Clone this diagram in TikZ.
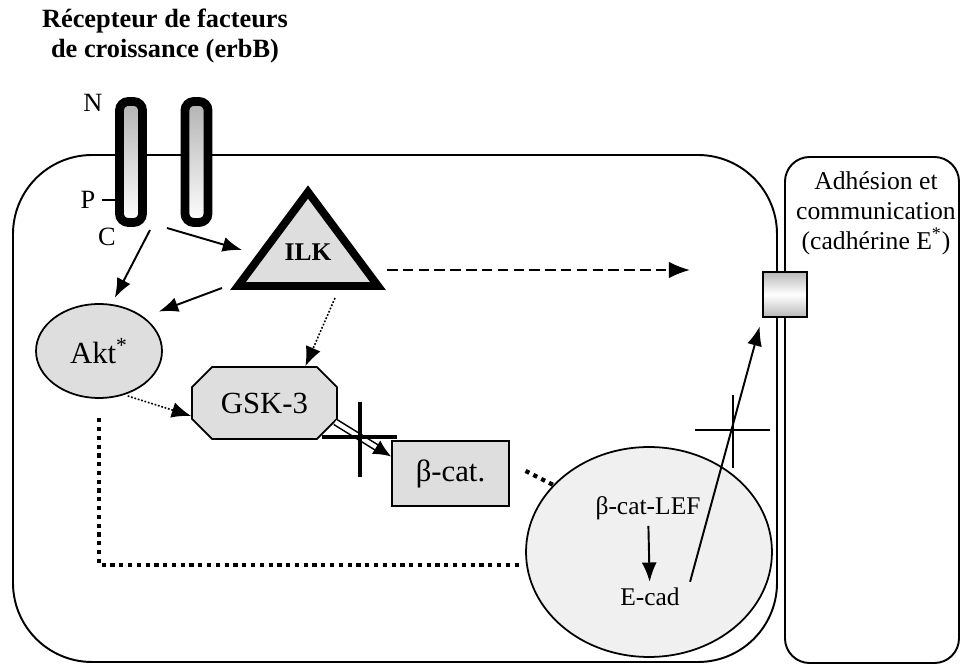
\documentclass[tikz,border=0pt]{standalone}
\usepackage{fontspec}
\setmainfont{Liberation Serif}
\usetikzlibrary{arrows.meta,shapes.misc,shapes.geometric}
\definecolor{grisclair}{gray}{0.87}
\definecolor{grisnoyau}{gray}{0.94}
\begin{document}
\begin{tikzpicture}[x=0.02cm,y=-0.02cm,
    font=\fontsize{17.5}{20}\selectfont,
    fleche/.style={-{Latex[length=11pt,width=8.5pt]},line width=1.1pt},
    pointille/.style={-{Latex[length=11pt,width=9pt]},line width=0.9pt,dash pattern=on 1pt off 1pt},
    tirets/.style={-{Latex[length=12pt,width=9.5pt]},line width=1.3pt,dash pattern=on 6pt off 3pt},
    gros pointille/.style={line width=2.4pt,dash pattern=on 2.4pt off 2.6pt},
    double fleche/.style={double,double distance=2.4pt,line width=0.9pt,-{Latex[length=10pt,width=9pt]}},
    recepteur/.style={draw,line width=5pt,rounded corners=5pt,minimum width=0.46cm,minimum height=2.42cm,inner sep=0pt,top color=gray!60,bottom color=white},
    proteine/.style={draw,line width=1pt,fill=grisclair,inner sep=0pt}]
\useasboundingbox (0,0) rectangle (961,665);

% les deux cellules
\draw[line width=1.1pt,rounded corners=45pt] (13,155) rectangle (777,662);
\draw[line width=1.1pt,rounded corners=14pt] (785,157) rectangle (959,663);

\node[font=\bfseries\fontsize{15}{17}\selectfont,align=center] (titre) at (165,36) {Récepteur de facteurs\\de croissance (erbB)};
\node[align=center,font=\fontsize{14.6}{17}\selectfont] (adh) at (876,213) {Adhésion et\\communication\\(cadhérine E\textsuperscript{*})};

\node[recepteur] (rec1) at (131,162) {};
\node[recepteur] (rec2) at (196.5,162) {};
\node[font=\fontsize{15}{17}\selectfont] (n) at (93,103) {N};
\node[font=\fontsize{15}{17}\selectfont] (p) at (88,200) {P};
\node[font=\fontsize{15}{17}\selectfont] (c) at (107,237) {C};
\draw[line width=1pt] (p.east) -- (p.east -| rec1.west);

\draw[line width=4.5pt,fill=grisclair,line join=miter] (308,192) -- (238,286) -- (378,286) -- cycle;
\node[font=\bfseries\fontsize{14.5}{16}\selectfont] (ilk) at (308,252) {ILK};

\node[proteine,ellipse,minimum width=2.52cm,minimum height=1.88cm] (akt) at (99,351) {Akt\textsuperscript{*}};
\node[proteine,chamfered rectangle,chamfered rectangle sep=0.2cm,minimum width=2.9cm,minimum height=1.44cm] (gsk) at (264.5,403) {GSK-3};
\node[proteine,minimum width=2.34cm,minimum height=1.3cm] (bcat) at (450.5,473.5) {β-cat.};
\node[proteine,ellipse,fill=grisnoyau,minimum width=4.92cm,minimum height=4.2cm] (lef) at (649,552) {};
\node[font=\fontsize{14.5}{17}\selectfont] (bcatlef) at (648,508) {β-cat-LEF};
\node[font=\fontsize{14.5}{17}\selectfont] (ecad) at (650,597) {E-cad};
\node[draw,line width=1.1pt,minimum width=0.88cm,minimum height=0.9cm,inner sep=0pt,top color=gray!55,bottom color=gray!55,middle color=white] (junc) at (785,294.5) {};

\coordinate (recC1) at (150,230);
\coordinate (recC2) at (167,228);
\coordinate (ilkG) at (242,250);
\coordinate (ilkB) at (222,288);
\coordinate (ilkD) at (335,298);
\coordinate (ilkE) at (387,270);
\coordinate (cible) at (690,270);
\coordinate (blk1) at (360,437);
\coordinate (blk2) at (733,430);

\draw[fleche,shorten >=4pt] (recC1) -- (akt.75);
\draw[fleche] (recC2) -- (ilkG);
\draw[fleche,shorten >=9pt] (ilkB) -- (akt.37);
\draw[pointille] (ilkD) -- (gsk.42);
\draw[pointille,shorten <=2pt] (akt.-60) -- (gsk.190);
\draw[tirets] (ilkE) -- (cible);
\draw[double fleche] (gsk.-15) -- (bcat.164);
\draw[line width=2.4pt] (blk1) ++(0,-35) -- ++(0,75) (blk1) ++(-38,0) -- ++(75,0);
\draw[gros pointille,shorten <=10pt] (bcat.10) -- (lef.145);
\draw[gros pointille,shorten <=11pt,shorten >=4pt] (akt.south) |- (lef.186);
\draw[fleche] (bcatlef) -- (ecad);
\draw[fleche,shorten <=9pt,shorten >=5pt] (ecad.east) -- (junc.south west);
\draw[line width=1.4pt] (blk2) ++(0,-35) -- ++(0,73) (blk2) ++(-38,0) -- ++(75,0);
\end{tikzpicture}
\end{document}
